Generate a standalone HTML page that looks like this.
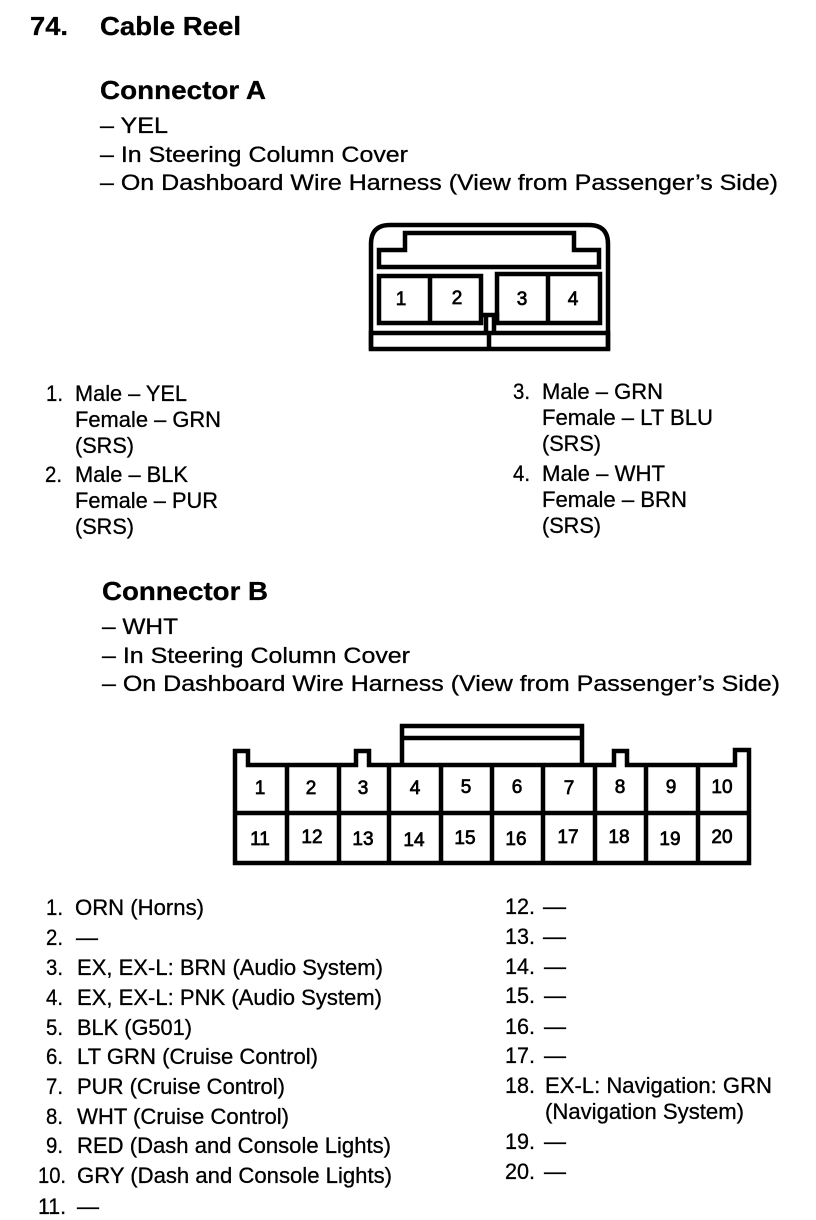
<!DOCTYPE html>
<html><head><meta charset="utf-8"><style>
html,body{margin:0;padding:0;background:#fff;width:816px;height:1220px;overflow:hidden}
svg{display:block}
text{font-family:"Liberation Sans",sans-serif;font-size:22px;fill:#000;stroke:#000;stroke-width:.3}
.b{font-weight:bold;font-size:26px;stroke-width:.3}
.n{font-size:19px;text-anchor:middle;stroke-width:.7}
.s{fill:none;stroke:#000;stroke-width:4.5}
</style></head><body>
<svg width="816" height="1220" viewBox="0 0 816 1220" xmlns="http://www.w3.org/2000/svg">
<text class="b" x="30" y="35" lengthAdjust="spacingAndGlyphs" textLength="38">74.</text>
<text class="b" x="100" y="35" lengthAdjust="spacingAndGlyphs" textLength="141">Cable Reel</text>
<text class="b" x="100" y="99" lengthAdjust="spacingAndGlyphs" textLength="166">Connector A</text>
<text x="100" y="133" lengthAdjust="spacingAndGlyphs" textLength="68">– YEL</text>
<text x="100" y="162" lengthAdjust="spacingAndGlyphs" textLength="308">– In Steering Column Cover</text>
<text x="100" y="190" lengthAdjust="spacingAndGlyphs" textLength="678">– On Dashboard Wire Harness (View from Passenger’s Side)</text>

<g class="conn">
<path class="s" d="M371 350V244Q371 225 390 225H589Q608 225 608 244V350"/>
<path class="s" d="M379 267V250H405V233H574V250H599V267Z"/>
<path class="s" d="M379 276H481V323H379ZM430 276V323"/>
<path class="s" d="M497 274H600V323H497ZM548 274V323"/>
<path class="s" d="M481 315H497V323"/>
<path class="s" d="M486 316V332M494 316V332"/>
<path class="s" d="M371 333H608V349H371ZM489 333V349"/>
</g>
<text class="n" x="401" y="305">1</text>
<text class="n" x="457" y="304">2</text>
<text class="n" x="522" y="305">3</text>
<text class="n" x="573" y="305">4</text>

<text x="46" y="401" lengthAdjust="spacingAndGlyphs" textLength="17">1.</text>
<text x="75" y="401" lengthAdjust="spacingAndGlyphs" textLength="112">Male – YEL</text>
<text x="75" y="427" lengthAdjust="spacingAndGlyphs" textLength="146">Female – GRN</text>
<text x="75" y="453" lengthAdjust="spacingAndGlyphs" textLength="59">(SRS)</text>
<text x="45" y="482" lengthAdjust="spacingAndGlyphs" textLength="17">2.</text>
<text x="75" y="482" lengthAdjust="spacingAndGlyphs" textLength="113">Male – BLK</text>
<text x="75" y="508" lengthAdjust="spacingAndGlyphs" textLength="143">Female – PUR</text>
<text x="75" y="534" lengthAdjust="spacingAndGlyphs" textLength="59">(SRS)</text>

<text x="513" y="399" lengthAdjust="spacingAndGlyphs" textLength="17">3.</text>
<text x="542" y="399" lengthAdjust="spacingAndGlyphs" textLength="121">Male – GRN</text>
<text x="542" y="425" lengthAdjust="spacingAndGlyphs" textLength="171">Female – LT BLU</text>
<text x="542" y="451" lengthAdjust="spacingAndGlyphs" textLength="59">(SRS)</text>
<text x="513" y="481" lengthAdjust="spacingAndGlyphs" textLength="17">4.</text>
<text x="542" y="481" lengthAdjust="spacingAndGlyphs" textLength="123">Male – WHT</text>
<text x="542" y="507" lengthAdjust="spacingAndGlyphs" textLength="145">Female – BRN</text>
<text x="542" y="533" lengthAdjust="spacingAndGlyphs" textLength="59">(SRS)</text>

<text class="b" x="102" y="600" lengthAdjust="spacingAndGlyphs" textLength="166">Connector B</text>
<text x="102" y="634" lengthAdjust="spacingAndGlyphs" textLength="76">– WHT</text>
<text x="102" y="663" lengthAdjust="spacingAndGlyphs" textLength="308">– In Steering Column Cover</text>
<text x="102" y="691" lengthAdjust="spacingAndGlyphs" textLength="678">– On Dashboard Wire Harness (View from Passenger’s Side)</text>

<g>
<path class="s" d="M235 863V751H248V765H356V751H369V765H614V751H627V765H735V750H749V863Z"/>
<path class="s" d="M402 765V726H582V765M402 738H582"/>
<path class="s" d="M235 813H749M287 765V863M339 765V863M389 765V863M441 765V863M492 765V863M543 765V863M595 765V863M646 765V863M698 765V863"/>
</g>
<text class="n" x="260" y="794">1</text><text class="n" x="311" y="794">2</text><text class="n" x="363" y="794">3</text><text class="n" x="415" y="794">4</text><text class="n" x="466" y="793">5</text><text class="n" x="517" y="793">6</text><text class="n" x="569" y="794">7</text><text class="n" x="620" y="793">8</text><text class="n" x="671" y="793">9</text><text class="n" x="722" y="793">10</text>
<text class="n" x="260" y="845">11</text><text class="n" x="312" y="843">12</text><text class="n" x="363" y="845">13</text><text class="n" x="414" y="846">14</text><text class="n" x="465" y="844">15</text><text class="n" x="516" y="845">16</text><text class="n" x="568" y="843">17</text><text class="n" x="619" y="843">18</text><text class="n" x="670" y="845">19</text><text class="n" x="722" y="843">20</text>

<text x="46" y="915" lengthAdjust="spacingAndGlyphs" textLength="17">1.</text><text x="75" y="915" lengthAdjust="spacingAndGlyphs" textLength="129">ORN (Horns)</text>
<text x="46" y="945" lengthAdjust="spacingAndGlyphs" textLength="17">2.</text><text x="76" y="945" lengthAdjust="spacingAndGlyphs" textLength="22">—</text>
<text x="46" y="975" lengthAdjust="spacingAndGlyphs" textLength="17">3.</text><text x="77" y="975" lengthAdjust="spacingAndGlyphs" textLength="306">EX, EX-L: BRN (Audio System)</text>
<text x="46" y="1005" lengthAdjust="spacingAndGlyphs" textLength="17">4.</text><text x="77" y="1005" lengthAdjust="spacingAndGlyphs" textLength="305">EX, EX-L: PNK (Audio System)</text>
<text x="46" y="1035" lengthAdjust="spacingAndGlyphs" textLength="17">5.</text><text x="77" y="1035" lengthAdjust="spacingAndGlyphs" textLength="115">BLK (G501)</text>
<text x="46" y="1064" lengthAdjust="spacingAndGlyphs" textLength="17">6.</text><text x="77" y="1064" lengthAdjust="spacingAndGlyphs" textLength="241">LT GRN (Cruise Control)</text>
<text x="46" y="1094" lengthAdjust="spacingAndGlyphs" textLength="17">7.</text><text x="77" y="1094" lengthAdjust="spacingAndGlyphs" textLength="208">PUR (Cruise Control)</text>
<text x="46" y="1124" lengthAdjust="spacingAndGlyphs" textLength="17">8.</text><text x="77" y="1124" lengthAdjust="spacingAndGlyphs" textLength="212">WHT (Cruise Control)</text>
<text x="46" y="1153" lengthAdjust="spacingAndGlyphs" textLength="17">9.</text><text x="77" y="1153" lengthAdjust="spacingAndGlyphs" textLength="314">RED (Dash and Console Lights)</text>
<text x="38" y="1183" lengthAdjust="spacingAndGlyphs" textLength="28">10.</text><text x="77" y="1183" lengthAdjust="spacingAndGlyphs" textLength="315">GRY (Dash and Console Lights)</text>
<text x="38" y="1214" lengthAdjust="spacingAndGlyphs" textLength="28">11.</text><text x="77" y="1214" lengthAdjust="spacingAndGlyphs" textLength="22">—</text>

<text x="505" y="914" lengthAdjust="spacingAndGlyphs" textLength="30">12.</text><text x="543" y="914" lengthAdjust="spacingAndGlyphs" textLength="23">—</text>
<text x="505" y="944" lengthAdjust="spacingAndGlyphs" textLength="30">13.</text><text x="543" y="944" lengthAdjust="spacingAndGlyphs" textLength="23">—</text>
<text x="505" y="974" lengthAdjust="spacingAndGlyphs" textLength="30">14.</text><text x="544" y="974" lengthAdjust="spacingAndGlyphs" textLength="22">—</text>
<text x="505" y="1003" lengthAdjust="spacingAndGlyphs" textLength="30">15.</text><text x="544" y="1003" lengthAdjust="spacingAndGlyphs" textLength="22">—</text>
<text x="505" y="1034" lengthAdjust="spacingAndGlyphs" textLength="30">16.</text><text x="544" y="1034" lengthAdjust="spacingAndGlyphs" textLength="22">—</text>
<text x="505" y="1063" lengthAdjust="spacingAndGlyphs" textLength="30">17.</text><text x="544" y="1063" lengthAdjust="spacingAndGlyphs" textLength="22">—</text>
<text x="505" y="1093" lengthAdjust="spacingAndGlyphs" textLength="30">18.</text><text x="545" y="1093" lengthAdjust="spacingAndGlyphs" textLength="227">EX-L: Navigation: GRN</text>
<text x="545" y="1119" lengthAdjust="spacingAndGlyphs" textLength="199">(Navigation System)</text>
<text x="505" y="1149" lengthAdjust="spacingAndGlyphs" textLength="30">19.</text><text x="544" y="1149" lengthAdjust="spacingAndGlyphs" textLength="22">—</text>
<text x="505" y="1179" lengthAdjust="spacingAndGlyphs" textLength="30">20.</text><text x="544" y="1179" lengthAdjust="spacingAndGlyphs" textLength="22">—</text>
</svg>
</body></html>
